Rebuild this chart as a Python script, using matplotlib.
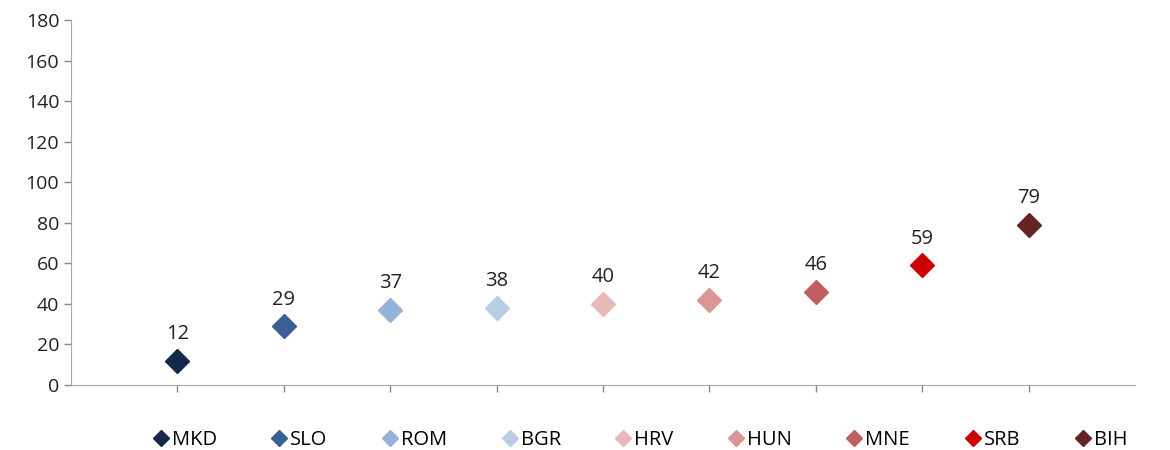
import matplotlib.pyplot as plt

plt.rcParams['font.family'] = ['Open Sans', 'DejaVu Sans']

countries = ["MKD", "SLO", "ROM", "BGR", "HRV", "HUN", "MNE", "SRB", "BIH"]
values = [12, 29, 37, 38, 40, 42, 46, 59, 79]
colors = ["#14284B", "#3A5F94", "#95B3D7", "#B9CDE5", "#E6B9B8",
          "#D99694", "#C0605E", "#CC0000", "#632523"]

fig = plt.figure(figsize=(11.7, 4.5), dpi=100)
ax = fig.add_axes([0.0607, 0.1444, 0.9093, 0.8112])

for i, (name, val, col) in enumerate(zip(countries, values, colors)):
    ax.plot(i + 1, val, marker="D", markersize=12, color=col,
            linestyle="none", label=name)
    ax.annotate(str(val), (i + 1, val), xytext=(0, 12), textcoords="offset points",
                ha="center", va="bottom", fontsize=14.5, color="#222222")

ax.set_xlim(0, 10)
ax.set_ylim(0, 180)
ax.set_yticks(range(0, 181, 20))
ax.set_xticks(range(1, 10))
ax.set_xticklabels([])
ax.tick_params(axis="both", colors="#888888", length=5, width=1,
               labelcolor="#222222", labelsize=14)
ax.tick_params(axis="x", direction="out")
for s in ["top", "right"]:
    ax.spines[s].set_visible(False)
for s in ["left", "bottom"]:
    ax.spines[s].set_color("#A6A6A6")

fig.legend(loc="center", bbox_to_anchor=(0.546, 0.022), ncol=9, frameon=False,
           fontsize=14.5, markerscale=0.65, handletextpad=0.05, columnspacing=2.6,
           handlelength=1.0)

fig.savefig("out.png", dpi=100)
